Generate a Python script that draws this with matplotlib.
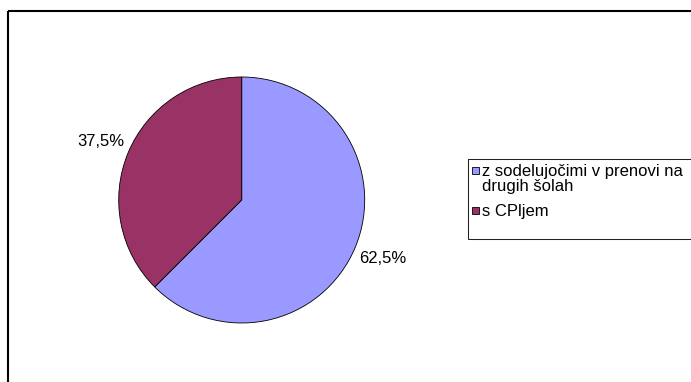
import matplotlib
matplotlib.use("Agg")
import matplotlib.pyplot as plt
from matplotlib.patches import Rectangle
from matplotlib.transforms import Affine2D

categories = ["z sodelujočimi v prenovi na\ndrugih šolah", "s CPljem"]
shares = [62.5, 37.5]
colors = ["#9999FF", "#993366"]

plt.rcParams['font.family'] = ['Liberation Sans', 'DejaVu Sans']

W, H = 691, 382
fig = plt.figure(figsize=(W / 100, H / 100), dpi=100)
# pixel coordinates measured from the top-left corner
px = Affine2D().scale(1 / W, -1 / H).translate(0, 1) + fig.transFigure

# chart area border
fig.patches.append(Rectangle((8.5, 11), 720, 420, transform=px, fill=False,
                             edgecolor='black', linewidth=1.5, clip_on=False))

cx, cy, r = 241.7, 200, 123
ax = fig.add_axes([(cx - r) / W, (H - cy - r) / H, 2 * r / W, 2 * r / H])
wedges, texts, autotexts = ax.pie(
    shares, colors=colors, startangle=90, counterclock=False, radius=1,
    wedgeprops=dict(edgecolor='black', linewidth=0.6),
    autopct=lambda p: f"{p:.1f}%".replace('.', ','), pctdistance=1.24,
    textprops=dict(fontsize=12, color='black'))
for t in autotexts:
    t.set_clip_on(False)
ax.set_xlim(-1, 1)
ax.set_ylim(-1, 1)
ax.set_aspect('equal')
ax.axis('off')

# legend
fig.patches.append(Rectangle((468, 159), 300, 80, transform=px, fill=False,
                             edgecolor='#222222', linewidth=0.75, clip_on=False))
entry_y = [170.5, 210.5]
for label, color, y in zip(categories, colors, entry_y):
    fig.patches.append(Rectangle((472, y - 3.5), 7, 7, transform=px,
                                 facecolor=color, edgecolor='black',
                                 linewidth=0.6))
    fig.text(482, y - 6.5, label, transform=px, fontsize=12, va='top',
             ha='left', linespacing=1.0)

fig.savefig("out.png", dpi=100)
